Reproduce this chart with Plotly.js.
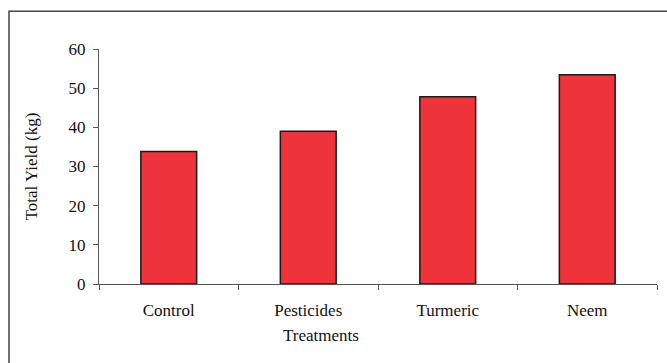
<!DOCTYPE html>
<html>
<head>
<meta charset="utf-8">
<script src="https://cdn.plot.ly/plotly-3.0.1.min.js"></script>
<style>html,body{margin:0;padding:0;background:#fff;}#chart{width:667px;height:363px;}</style>
</head>
<body>
<div id="chart"></div>
<script>
const categories = ["Control", "Pesticides", "Turmeric", "Neem"];
const totalYield = [33.8, 39.0, 47.8, 53.4];
const yTickValues = [0, 10, 20, 30, 40, 50, 60];

const font = "'Liberation Serif', 'Times New Roman', serif";

const trace = {
  type: "bar",
  x: categories,
  y: totalYield,
  width: 0.4,
  marker: { color: "#EE333A", line: { color: "#1a1a1a", width: 1.5 } },
  hoverinfo: "skip"
};

const layout = {
  width: 667, height: 363,
  margin: { l: 99, r: 10, t: 49, b: 79 },
  paper_bgcolor: "#fff", plot_bgcolor: "#fff",
  showlegend: false,
  font: { family: font, size: 17, color: "#111" },
  xaxis: {
    type: "category",
    tickson: "boundaries",
    ticks: "outside", ticklen: 5, tickcolor: "#555", tickwidth: 1,
    showline: true, linecolor: "#555", linewidth: 1,
    showgrid: false, zeroline: false,
    tickfont: { family: font, size: 17, color: "#111" },
    ticklabelstandoff: 11,
    range: [-0.5, 3.5]
  },
  yaxis: {
    range: [0, 60],
    tickvals: yTickValues,
    ticks: "outside", ticklen: 5, tickcolor: "#555", tickwidth: 1,
    showline: true, linecolor: "#555", linewidth: 1,
    showgrid: false, zeroline: false,
    tickfont: { family: font, size: 17, color: "#111" },
    ticklabelstandoff: 4,
    title: { text: "Total Yield (kg)", font: { family: font, size: 17, color: "#111" }, standoff: 26 }
  },
  annotations: [{
    text: "Treatments", xref: "paper", yref: "paper",
    x: (321 - 99) / 558, y: -(336 - 284.5) / 235.5,
    xanchor: "center", yanchor: "middle", showarrow: false,
    font: { family: font, size: 17, color: "#111" }
  }],
  shapes: [{
    type: "rect", xref: "paper", yref: "paper",
    x0: (9 - 99) / 558, x1: (700 - 99) / 558,
    y0: -(400 - 284.5) / 235.5, y1: 1 + (49.3 - 11.5) / 235.5,
    line: { color: "#444", width: 1.5 }, fillcolor: "rgba(0,0,0,0)", layer: "below"
  }]
};

Plotly.newPlot("chart", [trace], layout, { displayModeBar: false, staticPlot: true });
</script>
</body>
</html>
